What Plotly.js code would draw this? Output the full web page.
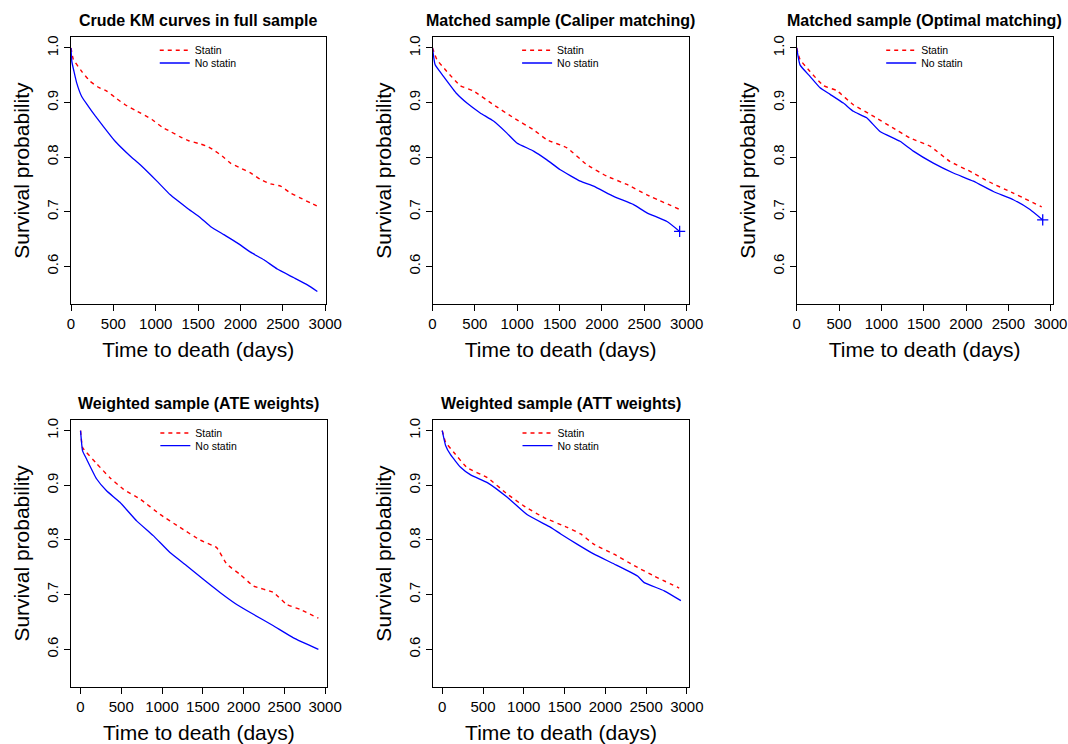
<!DOCTYPE html>
<html>
<head>
<meta charset="utf-8">
<script src="https://cdn.plot.ly/plotly-3.0.1.min.js"></script>
<style>html,body{margin:0;padding:0;background:#fff;}#chart{width:1068px;height:744px;}</style>
</head>
<body>
<div id="chart"></div>
<script>
// ---------- data (days, survival probability) ----------
const panelTitles = [
  "Crude KM curves in full sample",
  "Matched sample (Caliper matching)",
  "Matched sample (Optimal matching)",
  "Weighted sample (ATE weights)",
  "Weighted sample (ATT weights)"
];
const seriesNames = ["Statin", "No statin"];
const xTickVals = [0, 500, 1000, 1500, 2000, 2500, 3000];
const yTickVals = [0.6, 0.7, 0.8, 0.9, 1.0];

// Panel 1: crude
const crudeStatinTime = [0, 28, 126, 225, 323, 422, 540, 639, 757, 955, 1073, 1172, 1290, 1389, 1507, 1606, 1684, 1783, 1882, 2000, 2118, 2237, 2355, 2473, 2592, 2710, 2828, 2907];
const crudeStatinSurv = [1.0, 0.979, 0.957, 0.939, 0.928, 0.921, 0.907, 0.896, 0.886, 0.869, 0.855, 0.847, 0.837, 0.830, 0.825, 0.820, 0.813, 0.802, 0.789, 0.780, 0.771, 0.759, 0.751, 0.747, 0.734, 0.725, 0.716, 0.710];
const crudeNoStatinTime = [0, 10, 35, 67, 126, 205, 284, 383, 521, 698, 817, 1014, 1172, 1369, 1527, 1645, 1803, 1961, 2118, 2276, 2434, 2631, 2789, 2907];
const crudeNoStatinSurv = [1.0, 0.975, 0.957, 0.936, 0.911, 0.893, 0.876, 0.856, 0.829, 0.802, 0.786, 0.756, 0.731, 0.707, 0.689, 0.673, 0.658, 0.643, 0.626, 0.612, 0.595, 0.579, 0.566, 0.554];

// Panel 2: caliper matching
const caliperStatinTime = [0, 51, 169, 327, 484, 720, 957, 1193, 1350, 1587, 1823, 2059, 2295, 2531, 2906];
const caliperStatinSurv = [1.0, 0.979, 0.957, 0.931, 0.921, 0.896, 0.872, 0.850, 0.832, 0.817, 0.786, 0.765, 0.750, 0.731, 0.705];
const caliperNoStatinTime = [0, 31, 130, 287, 406, 563, 720, 878, 996, 1193, 1350, 1508, 1744, 1902, 2138, 2374, 2531, 2768, 2917];
const caliperNoStatinSurv = [1.0, 0.969, 0.948, 0.916, 0.899, 0.881, 0.866, 0.844, 0.826, 0.811, 0.795, 0.777, 0.756, 0.747, 0.728, 0.713, 0.698, 0.682, 0.664];

// Panel 3: optimal matching
const optimalStatinTime = [0, 39, 157, 315, 472, 669, 906, 1142, 1339, 1575, 1811, 2047, 2283, 2559, 2894];
const optimalStatinSurv = [1.0, 0.979, 0.957, 0.931, 0.922, 0.896, 0.875, 0.853, 0.835, 0.820, 0.792, 0.774, 0.754, 0.734, 0.709];
const optimalNoStatinTime = [0, 39, 157, 276, 394, 551, 669, 827, 984, 1220, 1378, 1614, 1850, 2087, 2323, 2559, 2756, 2906];
const optimalNoStatinSurv = [1.0, 0.969, 0.948, 0.927, 0.915, 0.899, 0.884, 0.872, 0.847, 0.829, 0.811, 0.789, 0.771, 0.756, 0.737, 0.722, 0.704, 0.685];

// Panel 4: ATE weights
const ateStatinTime = [0, 25, 74, 196, 360, 524, 729, 974, 1220, 1465, 1670, 1793, 1957, 2120, 2366, 2530, 2693, 2918];
const ateStatinSurv = [1.0, 0.969, 0.960, 0.940, 0.914, 0.893, 0.875, 0.847, 0.823, 0.800, 0.786, 0.756, 0.737, 0.716, 0.704, 0.682, 0.673, 0.657];
const ateNoStatinTime = [0, 25, 74, 196, 319, 483, 688, 892, 1097, 1302, 1506, 1711, 1916, 2120, 2366, 2612, 2918];
const ateNoStatinSurv = [1.0, 0.963, 0.948, 0.912, 0.890, 0.869, 0.835, 0.808, 0.777, 0.753, 0.728, 0.704, 0.682, 0.664, 0.643, 0.621, 0.600];

// Panel 5: ATT weights
const attStatinTime = [0, 41, 143, 307, 553, 798, 1003, 1248, 1535, 1699, 1862, 2108, 2354, 2599, 2906];
const attStatinSurv = [1.0, 0.979, 0.960, 0.932, 0.914, 0.884, 0.862, 0.841, 0.823, 0.811, 0.792, 0.774, 0.753, 0.734, 0.712];
const attNoStatinTime = [0, 41, 102, 225, 348, 553, 798, 1044, 1330, 1453, 1658, 1862, 2108, 2395, 2477, 2722, 2927];
const attNoStatinSurv = [1.0, 0.973, 0.956, 0.933, 0.919, 0.905, 0.878, 0.846, 0.823, 0.811, 0.792, 0.774, 0.756, 0.734, 0.722, 0.707, 0.689];

// which panels show a censoring "+" at the end of the No statin curve
const censorMarkPanels = [false, true, true, false, false];

// ---------- layout geometry (pixels in the 1068x744 figure) ----------
const W = 1068, H = 744;
const boxes = [
  {l: 71,    r: 325.5,  t: 37.3, b: 304, xr: [0, 3003]},
  {l: 432.5, r: 688.7,  t: 37.3, b: 304, xr: [0, 3024]},
  {l: 796.7, r: 1052.7, t: 37.3, b: 304, xr: [0, 3024]},
  {l: 71,    r: 326.7,  t: 420,  b: 687, xr: [-117, 3020]},
  {l: 432.7, r: 689.3,  t: 420,  b: 687, xr: [-117, 3030]}
];
const yRange = [0.531, 1.0195];

const panelData = [
  [crudeStatinTime, crudeStatinSurv, crudeNoStatinTime, crudeNoStatinSurv],
  [caliperStatinTime, caliperStatinSurv, caliperNoStatinTime, caliperNoStatinSurv],
  [optimalStatinTime, optimalStatinSurv, optimalNoStatinTime, optimalNoStatinSurv],
  [ateStatinTime, ateStatinSurv, ateNoStatinTime, ateNoStatinSurv],
  [attStatinTime, attStatinSurv, attNoStatinTime, attNoStatinSurv]
];

const FONT = "Liberation Sans, Arial, Helvetica, sans-serif";
const RED = "#FF0000", BLUE = "#0000FF";

const traces = [];
const layout = {
  width: W, height: H,
  margin: {l: 0, r: 0, t: 0, b: 0},
  paper_bgcolor: "#ffffff",
  plot_bgcolor: "#ffffff",
  font: {family: FONT, color: "#000000"},
  annotations: []
};

function legendName(k) { return k === 1 ? "legend" : "legend" + k; }

panelData.forEach((pd, i) => {
  const n = i + 1;
  const xa = n === 1 ? "x" : "x" + n;
  const ya = n === 1 ? "y" : "y" + n;
  const lgA = legendName(2 * i + 1);
  const lgB = legendName(2 * i + 2);
  const bx = boxes[i];

  traces.push({
    type: "scatter", mode: "lines", x: pd[0], y: pd[1], name: seriesNames[0],
    xaxis: xa, yaxis: ya, legend: lgA,
    line: {color: RED, width: 1.4, dash: "4px,4px", shape: "spline", smoothing: 0.4},
    hoverinfo: "skip"
  });
  traces.push({
    type: "scatter", mode: "lines", x: pd[2], y: pd[3], name: seriesNames[1],
    xaxis: xa, yaxis: ya, legend: lgB,
    line: {color: BLUE, width: 1.3, shape: "spline", smoothing: 0.4},
    hoverinfo: "skip"
  });
  if (censorMarkPanels[i]) {
    const k = pd[2].length - 1;
    traces.push({
      type: "scatter", mode: "markers", x: [pd[2][k]], y: [pd[3][k]],
      xaxis: xa, yaxis: ya, showlegend: false,
      marker: {symbol: "cross-thin", size: 8, color: BLUE, line: {color: BLUE, width: 1.3}},
      hoverinfo: "skip"
    });
  }

  const xKey = n === 1 ? "xaxis" : "xaxis" + n;
  const yKey = n === 1 ? "yaxis" : "yaxis" + n;
  layout[xKey] = {
    domain: [bx.l / W, bx.r / W], anchor: ya, range: bx.xr,
    tickmode: "array", tickvals: xTickVals, ticktext: xTickVals.map(String),
    ticks: "outside", ticklen: 6, tickwidth: 1, tickcolor: "#000",
    showline: true, mirror: true, linecolor: "#000", linewidth: 1,
    showgrid: false, zeroline: false,
    tickfont: {size: 15, family: FONT, color: "#000"},
    title: {text: "Time to death (days)", font: {size: 21, family: FONT, color: "#000"}, standoff: 11},
    fixedrange: true
  };
  layout[yKey] = {
    domain: [1 - bx.b / H, 1 - bx.t / H], anchor: xa, range: yRange,
    tickmode: "array", tickvals: yTickVals, ticktext: yTickVals.map(v => v.toFixed(1)),
    tickangle: -90,
    ticks: "outside", ticklen: 6, tickwidth: 1, tickcolor: "#000",
    showline: true, mirror: true, linecolor: "#000", linewidth: 1,
    showgrid: false, zeroline: false,
    tickfont: {size: 15, family: FONT, color: "#000"},
    title: {text: "Survival probability", font: {size: 21, family: FONT, color: "#000"}, standoff: 8},
    fixedrange: true
  };
  const cx = (bx.l + bx.r) / 2;
  const legendBase = {
    xanchor: "left", yanchor: "middle",
    bgcolor: "rgba(0,0,0,0)", borderwidth: 0,
    font: {size: 10.5, family: FONT, color: "#000"},
    itemwidth: 30
  };
  layout[lgA] = Object.assign({}, legendBase, {x: (cx - 43.5) / W, y: 1 - (bx.t + 13) / H});
  layout[lgB] = Object.assign({}, legendBase, {x: (cx - 43.5) / W, y: 1 - (bx.t + 25.7) / H});
  layout.annotations.push({
    text: "<b>" + panelTitles[i] + "</b>",
    xref: "paper", yref: "paper",
    x: cx / W, y: 1 - (bx.t - 16.5) / H,
    xanchor: "center", yanchor: "middle", showarrow: false,
    font: {size: 16, family: FONT, color: "#000"}
  });
});

Plotly.newPlot("chart", traces, layout, {displayModeBar: false, staticPlot: true});
</script>
</body>
</html>
